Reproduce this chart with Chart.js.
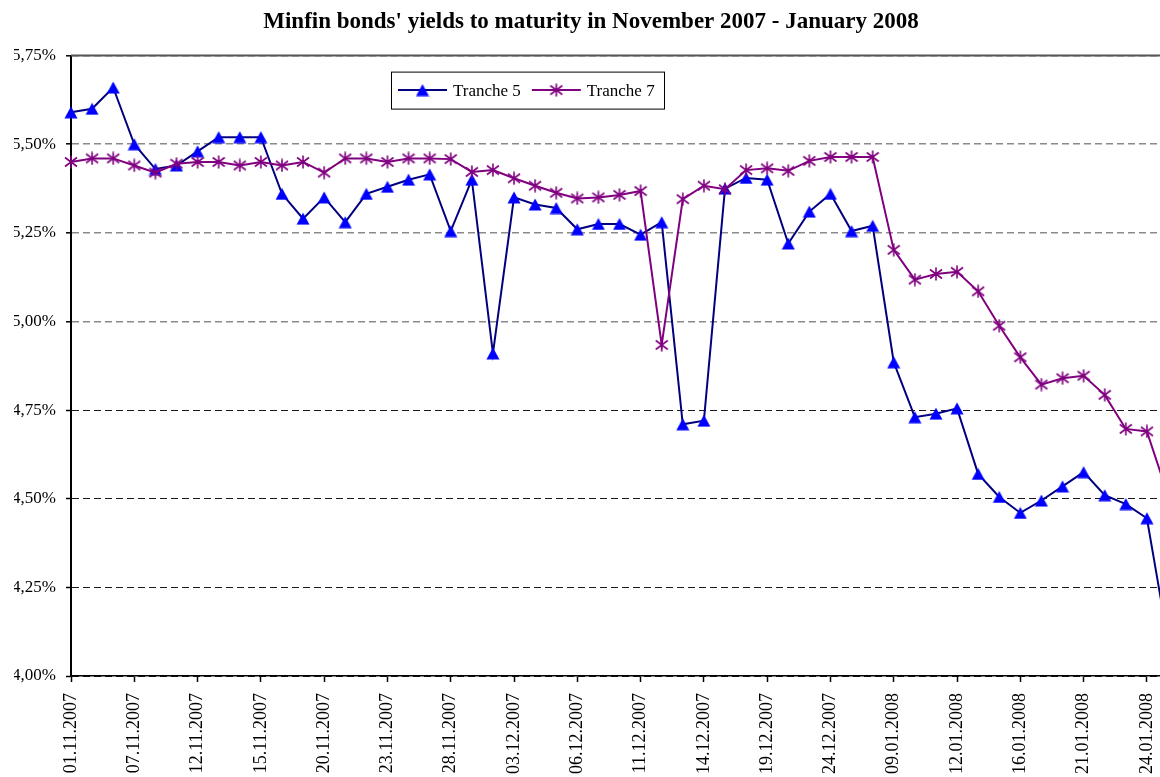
<!DOCTYPE html>
<html lang="en">
<head>
<meta charset="UTF-8">
<title>Minfin bonds' yields to maturity</title>
<script src="https://cdn.jsdelivr.net/npm/chart.js@4.4.0/dist/chart.umd.min.js"></script>
<style>
  html, body { margin: 0; padding: 0; background: #fff; overflow: hidden; }
</style>
</head>
<body>
<canvas id="yields" width="1182" height="777"></canvas>
<script>
// trading days, Nov 2007 - Jan 2008
const dates = [
  '01.11.2007', '02.11.2007', '06.11.2007', '07.11.2007', '08.11.2007', '09.11.2007',
  '12.11.2007', '13.11.2007', '14.11.2007', '15.11.2007', '16.11.2007', '19.11.2007',
  '20.11.2007', '21.11.2007', '22.11.2007', '23.11.2007', '26.11.2007', '27.11.2007',
  '28.11.2007', '29.11.2007', '30.11.2007', '03.12.2007', '04.12.2007', '05.12.2007',
  '06.12.2007', '07.12.2007', '10.12.2007', '11.12.2007', '12.12.2007', '13.12.2007',
  '14.12.2007', '17.12.2007', '18.12.2007', '19.12.2007', '20.12.2007', '21.12.2007',
  '24.12.2007', '25.12.2007', '26.12.2007', '09.01.2008', '10.01.2008', '11.01.2008',
  '12.01.2008', '14.01.2008', '15.01.2008', '16.01.2008', '17.01.2008', '18.01.2008',
  '21.01.2008', '22.01.2008', '23.01.2008', '24.01.2008', '25.01.2008'
];

// yields, %
const tranche5 = [
  5.59, 5.60, 5.66, 5.50, 5.43, 5.44, 5.48, 5.52, 5.52, 5.52,
  5.36, 5.29, 5.35, 5.28, 5.36, 5.38, 5.40, 5.415, 5.255, 5.40,
  4.91, 5.35, 5.33, 5.32, 5.26, 5.275, 5.275, 5.245, 5.28, 4.71,
  4.72, 5.375, 5.405, 5.40, 5.22, 5.31, 5.36, 5.255, 5.27, 4.885,
  4.73, 4.74, 4.755, 4.57, 4.505, 4.46, 4.495, 4.535, 4.575, 4.51,
  4.485, 4.445, 4.10
];
const tranche7 = [
  5.45, 5.46, 5.46, 5.44, 5.42, 5.445, 5.45, 5.45, 5.44, 5.45,
  5.44, 5.45, 5.42, 5.46, 5.46, 5.45, 5.46, 5.46, 5.458, 5.422,
  5.427, 5.404, 5.383, 5.363, 5.347, 5.35, 5.357, 5.368, 4.934, 5.345,
  5.383, 5.373, 5.427, 5.432, 5.425, 5.453, 5.464, 5.464, 5.464, 5.202,
  5.118, 5.134, 5.14, 5.085, 4.988, 4.899, 4.822, 4.84, 4.847, 4.793,
  4.697, 4.69, 4.51
];

const serif = '"Liberation Serif", "Times New Roman", serif';

// excel-like markers drawn into small canvases
function makeTriangle(color) {
  const c = document.createElement('canvas');
  c.width = 14; c.height = 13;
  const g = c.getContext('2d');
  g.fillStyle = color;
  g.beginPath();
  g.moveTo(7, 0.5); g.lineTo(13.5, 12.5); g.lineTo(0.5, 12.5);
  g.closePath();
  g.fill();
  return c;
}

function makeStar(color) {
  const c = document.createElement('canvas');
  c.width = 14; c.height = 14;
  const g = c.getContext('2d');
  g.strokeStyle = color;
  g.lineWidth = 1.6;
  g.beginPath();
  g.moveTo(7, 0.5); g.lineTo(7, 13.5);
  g.moveTo(1, 2.5); g.lineTo(13, 11.5);
  g.moveTo(13, 2.5); g.lineTo(1, 11.5);
  g.stroke();
  return c;
}

// solid frame line on top of the plot
const topLine = {
  id: 'topLine',
  beforeDatasetsDraw(chart) {
    const { ctx, chartArea } = chart;
    ctx.save();
    ctx.strokeStyle = '#555';
    ctx.lineWidth = 2;
    ctx.beginPath();
    ctx.moveTo(chartArea.left, chartArea.top);
    ctx.lineTo(chartArea.right, chartArea.top);
    ctx.stroke();
    ctx.restore();
  }
};

// boxed legend inside the plot
const legendBox = {
  id: 'legendBox',
  afterDraw(chart) {
    const { ctx, chartArea } = chart;
    const left = chartArea.left + 320, top = chartArea.top + 16, w = 273, h = 37;
    ctx.save();
    ctx.fillStyle = '#fff';
    ctx.fillRect(left, top, w, h);
    ctx.strokeStyle = '#000';
    ctx.lineWidth = 1;
    ctx.strokeRect(left + 0.5, top + 0.5, w, h);
    ctx.font = '17px ' + serif;
    ctx.textBaseline = 'middle';
    const cy = top + h / 2;
    let x = left + 7;
    chart.data.datasets.forEach(ds => {
      ctx.strokeStyle = ds.borderColor;
      ctx.lineWidth = ds.borderWidth;
      ctx.beginPath();
      ctx.moveTo(x, cy);
      ctx.lineTo(x + 49, cy);
      ctx.stroke();
      const img = ds.pointStyle;
      ctx.drawImage(img, x + 24.5 - img.width / 2, cy - img.height / 2);
      ctx.fillStyle = '#000';
      ctx.fillText(ds.label, x + 55, cy + 1);
      x += 55 + ctx.measureText(ds.label).width + 11;
    });
    ctx.restore();
  }
};

new Chart(document.getElementById('yields'), {
  type: 'line',
  data: {
    labels: dates,
    datasets: [
      {
        label: 'Tranche 5',
        data: tranche5,
        borderColor: '#000080',
        borderWidth: 2,
        pointStyle: makeTriangle('#0000ff'),
        pointRadius: 6,
        tension: 0,
        order: 2
      },
      {
        label: 'Tranche 7',
        data: tranche7,
        borderColor: '#800080',
        borderWidth: 2,
        pointStyle: makeStar('#800080'),
        pointRadius: 6,
        tension: 0,
        order: 1
      }
    ]
  },
  options: {
    responsive: false,
    devicePixelRatio: 1,
    animation: false,
    events: [],
    layout: { padding: { left: 14, right: 14, top: 0, bottom: 0 } },
    plugins: {
      legend: { display: false },
      tooltip: { enabled: false },
      title: {
        display: true,
        text: "Minfin bonds' yields to maturity in November 2007 - January 2008",
        color: '#000',
        font: { family: serif, size: 23, weight: 'bold' },
        padding: { top: 8, bottom: 20 }
      }
    },
    scales: {
      x: {
        afterFit(scale) {
          scale.height = 101;
          scale.paddingLeft = 0;
          scale.paddingRight = 0;
        },
        grid: {
          drawOnChartArea: false,
          drawTicks: true,
          tickLength: 6,
          tickWidth: 1.5,
          tickColor: ctx => ctx.index % 3 === 0 ? '#000' : 'rgba(0,0,0,0)'
        },
        border: { color: '#000', width: 1.5 },
        ticks: {
          autoSkip: false,
          minRotation: 90,
          maxRotation: 90,
          padding: 11,
          color: '#000',
          font: { family: serif, size: 18 },
          callback(value, index) {
            return index % 3 === 0 ? this.getLabelForValue(value) : '';
          }
        }
      },
      y: {
        min: 4,
        max: 5.75,
        afterFit(scale) { scale.width = 57; },
        grid: {
          color: ctx => ctx.tick.value >= 5 ? '#8a8a8a' : '#1a1a1a',
          lineWidth: ctx => ctx.tick.value >= 5 ? 1.6 : 1,
          tickColor: '#000',
          tickLength: 5,
          tickWidth: 1.5
        },
        border: { color: '#000', width: 2, dash: [7, 4] },
        ticks: {
          stepSize: 0.25,
          padding: 10,
          color: '#000',
          font: { family: serif, size: 17 },
          callback: v => v.toFixed(2).replace('.', ',') + '%'
        }
      }
    }
  },
  plugins: [topLine, legendBox]
});
</script>
</body>
</html>
